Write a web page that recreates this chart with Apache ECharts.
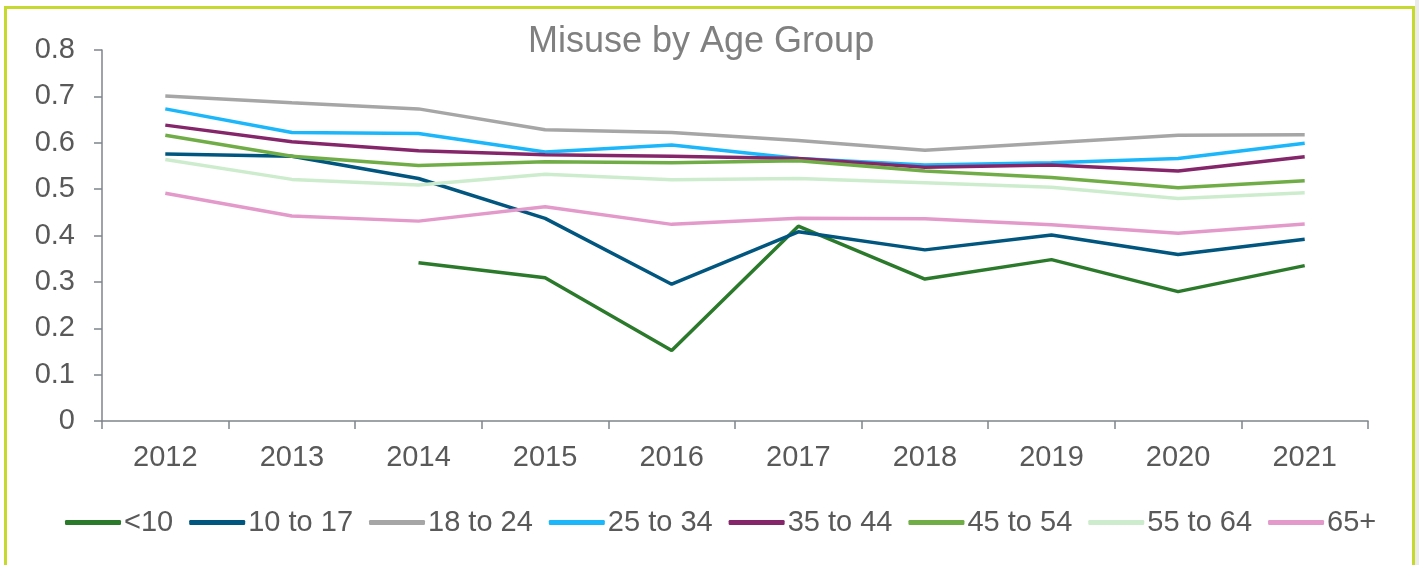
<!DOCTYPE html>
<html>
<head>
<meta charset="utf-8">
<script src="https://cdn.jsdelivr.net/npm/echarts@6/dist/echarts.min.js"></script>
<style>
  html, body { margin: 0; padding: 0; background: #fff; }
  .frame {
    position: absolute; left: 4px; top: 6px; width: 1411px; height: 600px;
    border: 3px solid #c6d92e; box-sizing: border-box;
  }
  .edge { position: absolute; left: 1415px; top: 0; width: 4px; height: 565px; background: #ebebeb; }
  .chart-box { position: absolute; left: 0; top: 0; width: 1419px; height: 565px; }
</style>
</head>
<body>
<div class="edge"></div>
<div class="frame"></div>
<div class="chart-box" id="chart"></div>
<script>
  // 数据
  const years = ['2012', '2013', '2014', '2015', '2016', '2017', '2018', '2019', '2020', '2021'];
  const under10 = [null, null, 0.341, 0.309, 0.152, 0.420, 0.306, 0.348, 0.279, 0.335];
  const age10to17 = [0.576, 0.571, 0.523, 0.437, 0.295, 0.408, 0.369, 0.401, 0.359, 0.392];
  const age18to24 = [0.701, 0.686, 0.673, 0.628, 0.622, 0.605, 0.584, 0.600, 0.616, 0.617];
  const age25to34 = [0.673, 0.622, 0.620, 0.580, 0.595, 0.566, 0.552, 0.557, 0.566, 0.599];
  const age35to44 = [0.638, 0.602, 0.583, 0.574, 0.571, 0.566, 0.547, 0.552, 0.539, 0.570];
  const age45to54 = [0.616, 0.571, 0.551, 0.559, 0.557, 0.561, 0.539, 0.525, 0.503, 0.518];
  const age55to64 = [0.564, 0.521, 0.509, 0.532, 0.520, 0.523, 0.514, 0.504, 0.480, 0.492];
  const age65plus = [0.491, 0.442, 0.431, 0.462, 0.424, 0.437, 0.436, 0.423, 0.405, 0.425];

  const seriesArr = [
    { name: '<10', data: under10, color: '#2b7a2b' },
    { name: '10 to 17', data: age10to17, color: '#00567f' },
    { name: '18 to 24', data: age18to24, color: '#a6a6a6' },
    { name: '25 to 34', data: age25to34, color: '#1cb7fa' },
    { name: '35 to 44', data: age35to44, color: '#85266b' },
    { name: '45 to 54', data: age45to54, color: '#70ad47' },
    { name: '55 to 64', data: age55to64, color: '#cdeccd' },
    { name: '65+', data: age65plus, color: '#e39acb' },
  ];

  const font = 'Liberation Sans, Arial, sans-serif';
  const axisColor = '#7f858c';

  const chart = echarts.init(document.getElementById('chart'));
  const option = {
    animation: false,
    title: {
      text: 'Misuse by Age Group',
      left: 523,
      top: 19,
      textStyle: { color: '#808080', fontSize: 36, fontWeight: 'normal', fontFamily: font },
    },
    legend: {
      data: seriesArr.map(item => item.name),
      left: 60,
      top: 503,
      icon: 'roundRect',
      itemWidth: 56,
      itemHeight: 5,
      itemGap: 16,
      textStyle: { color: '#595959', fontSize: 29, fontFamily: font, padding: [0, 0, 0, -2] },
    },
    grid: {
      left: 102,
      right: 51,
      top: 50,
      bottom: 144,
      containLabel: false,
    },
    xAxis: {
      type: 'category',
      data: years,
      boundaryGap: true,
      axisLine: { lineStyle: { color: axisColor, width: 1.5 } },
      axisTick: { show: true, length: 8, lineStyle: { color: axisColor, width: 1.5 } },
      axisLabel: { color: '#595959', fontSize: 29, fontFamily: font, margin: 22 },
    },
    yAxis: {
      type: 'value',
      min: 0,
      max: 0.8,
      interval: 0.1,
      axisLine: { show: true, lineStyle: { color: axisColor, width: 1.5 } },
      axisTick: { show: true, length: 8, lineStyle: { color: axisColor, width: 1.5 } },
      splitLine: { show: false },
      axisLabel: {
        color: '#595959', fontSize: 29, fontFamily: font, margin: 27,
        formatter: (v) => (v === 0 ? '0' : v.toFixed(1)),
      },
    },
    series: seriesArr.map(item => ({
      name: item.name,
      type: 'line',
      data: item.data,
      showSymbol: false,
      symbol: 'none',
      connectNulls: false,
      itemStyle: { color: item.color },
      lineStyle: { color: item.color, width: 3.5 },
    })),
  };
  chart.setOption(option);
</script>
</body>
</html>
